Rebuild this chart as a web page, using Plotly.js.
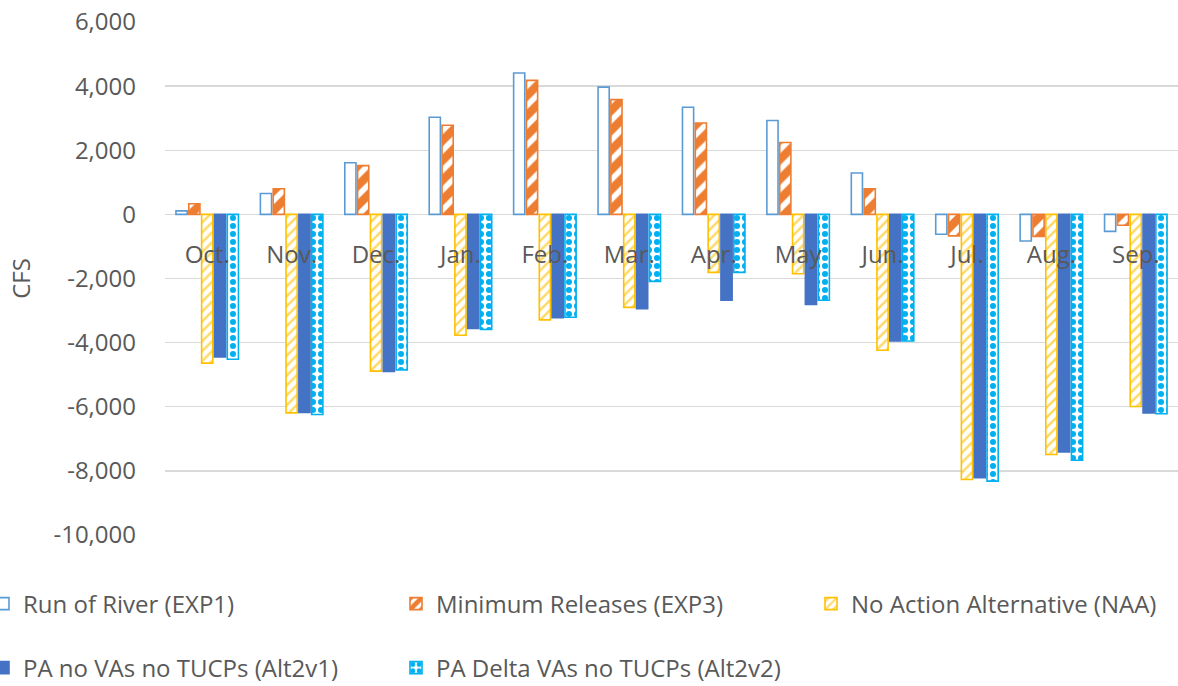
<!DOCTYPE html>
<html>
<head>
<meta charset="utf-8">
<script src="https://cdn.plot.ly/plotly-3.0.1.min.js"></script>
<style>
  html, body { margin: 0; padding: 0; background: #ffffff; }
  #chart { width: 1178px; height: 686px; }
</style>
</head>
<body>
<div id="chart"></div>
<script>
const months = ["Oct.", "Nov.", "Dec.", "Jan.", "Feb.", "Mar.", "Apr.", "May", "Jun.", "Jul.", "Aug.", "Sep."];

const runOfRiverEXP1 = [110, 650, 1610, 3030, 4410, 3970, 3340, 2930, 1290, -620, -830, -530];
const minReleasesEXP3 = [330, 800, 1520, 2780, 4180, 3580, 2850, 2240, 800, -670, -690, -340];
const noActionNAA = [-4640, -6190, -4890, -3770, -3290, -2900, -1810, -1850, -4240, -8270, -7490, -5990];
const paAlt2v1 = [-4450, -6180, -4900, -3560, -3220, -2940, -2680, -2810, -3950, -8210, -7410, -6190];
const paAlt2v2 = [-4520, -6240, -4850, -3590, -3210, -2090, -1810, -2680, -3950, -8320, -7670, -6220];

const seriesNames = [
  "Run of River (EXP1)",
  "Minimum Releases (EXP3)",
  "No Action Alternative (NAA)",
  "PA no VAs no TUCPs (Alt2v1)",
  "PA Delta VAs no TUCPs (Alt2v2)"
];

const yTickVals = [6000, 4000, 2000, 0, -2000, -4000, -6000, -8000, -10000];
const yTickText = ["6,000", "4,000", "2,000", "0", "-2,000", "-4,000", "-6,000", "-8,000", "-10,000"];

const FONT = "'Open Sans', 'Noto Sans', sans-serif";
const TXT = "#595959";

const traces = [
  {
    type: "bar", name: seriesNames[0], x: months, y: runOfRiverEXP1,
    marker: { color: "#ffffff", line: { color: "#5B9BD5", width: 1.6 } },
    legend: "legend"
  },
  {
    type: "bar", name: seriesNames[1], x: months, y: minReleasesEXP3,
    marker: { color: "#ED7D31", line: { color: "#ED7D31", width: 1.6 },
      pattern: { shape: "/", fgcolor: "#ED7D31", bgcolor: "#ffffff", size: 14, solidity: 0.6 } },
    legend: "legend2"
  },
  {
    type: "bar", name: seriesNames[2], x: months, y: noActionNAA,
    marker: { color: "#FFC000", line: { color: "#FFC000", width: 1.6 },
      pattern: { shape: "/", fgcolor: "#FFD966", bgcolor: "#ffffff", size: 7, solidity: 0.35 } },
    legend: "legend3"
  },
  {
    type: "bar", name: seriesNames[3], x: months, y: paAlt2v1,
    marker: { color: "#4472C4", line: { color: "#4472C4", width: 1.6 } },
    legend: "legend4"
  },
  {
    type: "bar", name: seriesNames[4], x: months, y: paAlt2v2,
    marker: { color: "#00B0F0", line: { color: "#00B0F0", width: 1.6 },
      pattern: { shape: ".", fgcolor: "#00B0F0", bgcolor: "#ffffff", size: 8, solidity: 0.45 } },
    legend: "legend5"
  }
];

const plotL = 165, plotR = 1178, plotT = 22, plotB = 535;
const pw = plotR - plotL, ph = plotB - plotT;

function leg(pxX, pxY) {
  return {
    orientation: "h",
    xanchor: "left",
    yanchor: "middle",
    x: (pxX - plotL) / pw,
    y: -(pxY - plotB) / ph,
    font: { family: FONT, size: 24, color: TXT },
    bgcolor: "rgba(0,0,0,0)",
    borderwidth: 0
  };
}

const layout = {
  width: 1178,
  height: 686,
  paper_bgcolor: "#ffffff",
  plot_bgcolor: "#ffffff",
  font: { family: FONT, size: 24, color: TXT },
  margin: { l: plotL, r: 1178 - plotR, t: plotT, b: 686 - plotB, autoexpand: false },
  barmode: "group",
  bargap: 0.24,
  bargroupgap: 0.13,
  showlegend: true,
  xaxis: {
    type: "category",
    anchor: "free",
    position: 0.625,
    showline: false,
    showgrid: false,
    ticks: "",
    ticklabelstandoff: 24,
    tickfont: { family: FONT, size: 24, color: TXT },
    fixedrange: true
  },
  yaxis: {
    range: [-10000, 6000],
    tickmode: "array",
    tickvals: yTickVals,
    ticktext: yTickText,
    showgrid: true,
    gridcolor: "#d9d9d9",
    gridwidth: 1.3,
    zeroline: true,
    zerolinecolor: "#d9d9d9",
    zerolinewidth: 1.6,
    showline: false,
    ticks: "",
    ticklabelstandoff: 28,
    tickfont: { family: FONT, size: 24, color: TXT },
    title: { text: "CFS", font: { family: FONT, size: 24, color: TXT }, standoff: 16 },
    fixedrange: true
  },
  legend: leg(-17, 604),
  legend2: leg(396, 604),
  legend3: leg(811, 604),
  legend4: leg(-17, 668),
  legend5: leg(396, 668)
};

Plotly.newPlot("chart", traces, layout, { displayModeBar: false, staticPlot: true });
</script>
</body>
</html>
